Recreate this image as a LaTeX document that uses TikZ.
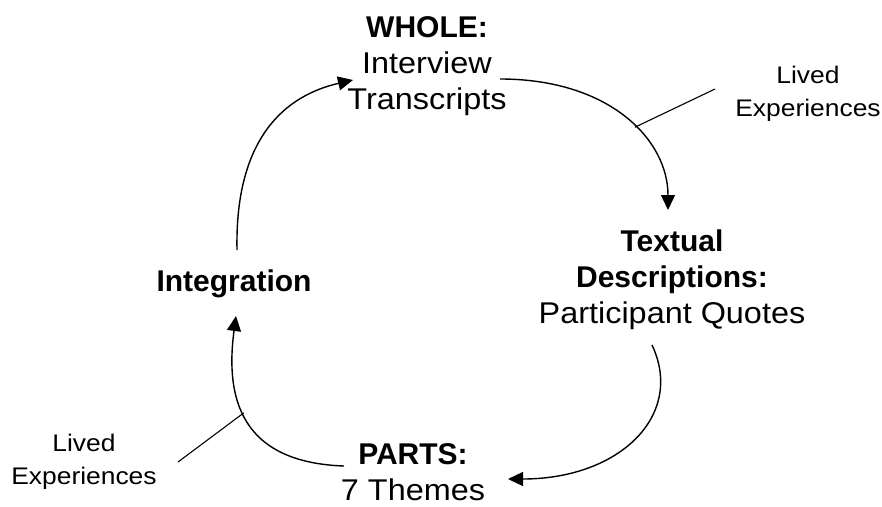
\documentclass[tikz,border=0pt]{standalone}
\usepackage{fontspec}
\setmainfont{Liberation Sans}
\newfontfamily\regf{Liberation Sans}[FakeStretch=1.08]
\newfontfamily\smallf{Liberation Sans}[FakeStretch=1.1]
\usetikzlibrary{arrows.meta}
\tikzset{
  lbl/.style={inner sep=0pt, align=center, font=\fontsize{30}{36}\selectfont},
  small/.style={inner sep=0pt, align=center, font=\smallf\fontsize{24}{33}\selectfont},
  arc/.style={line width=1.4pt, -{Triangle[length=15pt,width=14pt]}},
  tick/.style={line width=1.1pt}
}
\begin{document}
\begin{tikzpicture}[x=1pt,y=-1pt]
\useasboundingbox (0,0) rectangle (882,506);
\node[lbl] (whole) at (427,66) {\textbf{WHOLE:}\\{\regf Interview}\\{\regf Transcripts}};
\node[lbl] (textual) at (672,280) {\textbf{Textual}\\\textbf{Descriptions:}\\{\regf Participant Quotes}};
\node[lbl] (parts) at (413,472) {\textbf{PARTS:}\\{\regf 7 Themes}};
\node[lbl] (integ) at (234,284) {\textbf{Integration}};
\node[small] (lived1) at (808,94) {Lived\\Experiences};
\node[small] (lived2) at (84,462) {Lived\\Experiences};
\coordinate (s1) at (500,79);
\coordinate (e1) at (668,210);
\coordinate (s2) at (652,345);
\coordinate (e2) at (508,479);
\coordinate (s3) at (344,466);
\coordinate (e3) at (236,316);
\coordinate (s4) at (237,250);
\coordinate (e4) at (353,80);
\coordinate (l1) at (715,89);
\coordinate (l2) at (178,462);
\draw[arc] (s1) .. controls (610,79) and (668,140) .. coordinate[pos=0.56] (b1) (e1);
\draw[arc] (s2) .. controls (685,415) and (620,479) .. (e2);
\draw[arc] (s3) .. controls (260,463) and (222,420) .. coordinate[pos=0.6] (b3) (e3);
\draw[arc] (s4) .. controls (235,150) and (275,98) .. (e4);
\draw[tick] (b1) -- (l1);
\draw[tick] (b3) -- (l2);
\end{tikzpicture}
\end{document}
